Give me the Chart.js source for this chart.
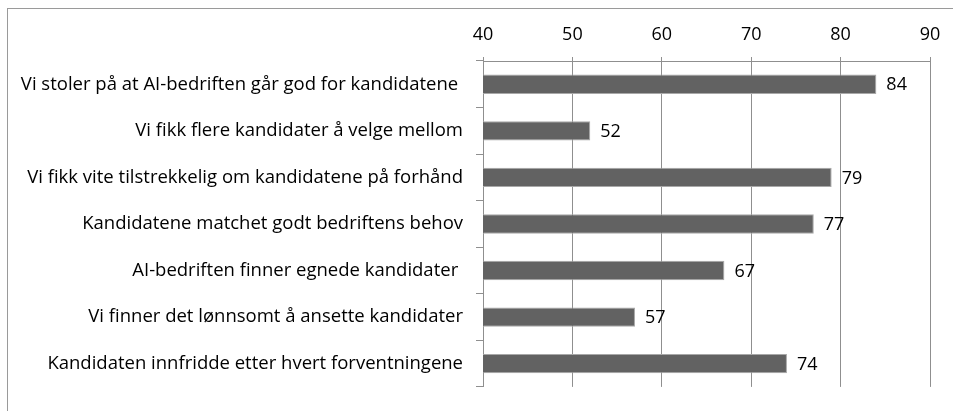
<!DOCTYPE html>
<html>
<head>
<meta charset="utf-8">
<script src="https://cdn.jsdelivr.net/npm/chart.js@4"></script>
<style>
  html, body { margin: 0; padding: 0; background: #fff; }
  #wrap { width: 953px; height: 411px; }
</style>
</head>
<body>
<div id="wrap"><canvas id="chart" width="953" height="411"></canvas></div>
<script>
// categories og verdier lest fra figuren
const categories = [
  'Vi stoler på at AI-bedriften går god for kandidatene ',
  'Vi fikk flere kandidater å velge mellom',
  'Vi fikk vite tilstrekkelig om kandidatene på forhånd',
  'Kandidatene matchet godt bedriftens behov',
  'AI-bedriften finner egnede kandidater ',
  'Vi finner det lønnsomt å ansette kandidater',
  'Kandidaten innfridde etter hvert forventningene'
];
const values = [84, 52, 79, 77, 67, 57, 74];
const xTicks = [40, 50, 60, 70, 80, 90];

const FONT = '"Open Sans", sans-serif';
const GRID = '#8f8f8f';

// ramme rundt diagrammet (venstre + topp synlig)
const framePlugin = {
  id: 'frame',
  beforeDraw(chart) {
    const ctx = chart.ctx;
    ctx.save();
    ctx.strokeStyle = '#9a9a9a';
    ctx.lineWidth = 1;
    ctx.strokeRect(7.5, 8.5, 1000, 600);
    ctx.restore();
  }
};

// verdietiketter ved enden av stolpene
const valueLabels = {
  id: 'valueLabels',
  afterDatasetsDraw(chart) {
    const ctx = chart.ctx;
    const meta = chart.getDatasetMeta(0);
    ctx.save();
    ctx.font = '18px ' + FONT;
    ctx.fillStyle = '#000';
    ctx.textAlign = 'left';
    ctx.textBaseline = 'middle';
    meta.data.forEach((bar, i) => {
      ctx.fillText(String(values[i]), bar.x + 10, bar.y + 1);
    });
    ctx.restore();
  }
};

new Chart(document.getElementById('chart'), {
  type: 'bar',
  data: {
    labels: categories,
    datasets: [{
      data: values,
      backgroundColor: '#626262',
      borderColor: '#a8a8a8',
      borderWidth: 1,
      barPercentage: 0.8,
      categoryPercentage: 0.52
    }]
  },
  options: {
    indexAxis: 'y',
    responsive: false,
    animation: false,
    layout: { padding: { left: 0, right: 23, top: 0, bottom: 17 } },
    plugins: {
      legend: { display: false },
      tooltip: { enabled: false }
    },
    scales: {
      x: {
        position: 'top',
        min: 40,
        max: 90,
        afterBuildTicks(scale) {
          scale.ticks = xTicks.map(v => ({ value: v }));
        },
        afterFit(scale) { scale.height = 61; },
        grid: { color: GRID, tickLength: 4, lineWidth: 1 },
        border: { color: GRID },
        ticks: {
          color: '#000',
          font: { family: FONT, size: 18 },
          padding: 11
        }
      },
      y: {
        afterFit(scale) { scale.width = 483; },
        grid: { drawOnChartArea: false, color: GRID, tickLength: 7, offset: true },
        border: { color: GRID },
        ticks: {
          color: '#000',
          font: { family: FONT, size: 18.5 },
          padding: 13
        }
      }
    }
  },
  plugins: [framePlugin, valueLabels]
});
</script>
</body>
</html>
